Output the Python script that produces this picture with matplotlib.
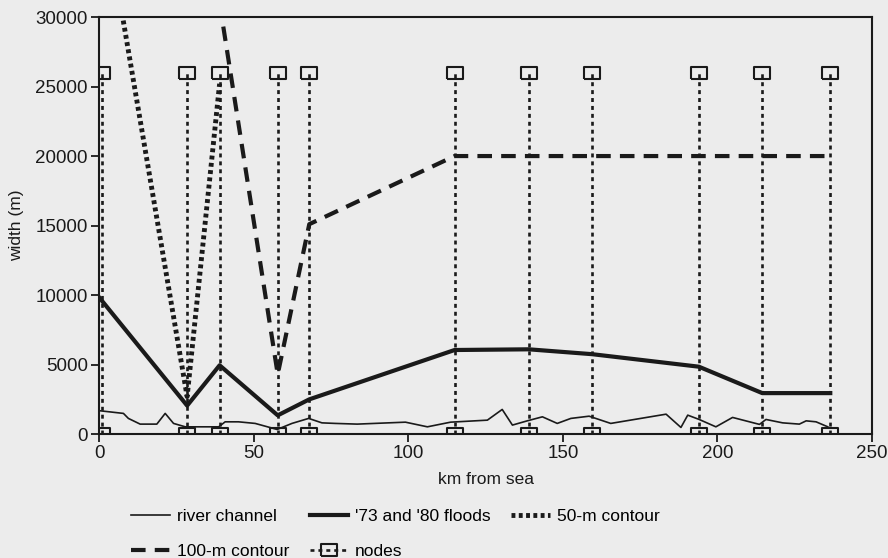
import numpy as np
import matplotlib.pyplot as plt
from matplotlib.lines import Line2D

# river channel width (m) along km from sea
river_km = [0.3, 7.9, 9.5, 13.3, 18.7, 21.4, 24.1, 27.9, 34.3, 38.7, 40.8, 45.1, 50.5,
            57.6, 62.4, 67.8, 72.1, 76.4, 83.5, 99.1, 106.2, 113.7, 125.6, 130.4, 133.7,
            138.5, 143.4, 148.2, 152.6, 158.5, 165.5, 183.4, 188.2, 190.4, 194.1, 199.5,
            204.9, 213.6, 215.7, 221.1, 226.5, 228.7, 231.9, 235.7]
river_w = [1680, 1490, 1130, 720, 720, 1490, 770, 525, 525, 525, 885, 885, 770,
           335, 770, 1130, 810, 770, 720, 860, 525, 860, 1005, 1775, 650,
           955, 1245, 770, 1130, 1290, 770, 1435, 480, 1365, 1055, 525,
           1200, 700, 1055, 810, 720, 955, 885, 525]

flood_km = [0, 28.5, 39, 57.8, 68, 115, 139, 159.5, 194, 214.5, 236.5]
flood_w = [9850, 2050, 4950, 1350, 2500, 6050, 6100, 5750, 4850, 2950, 2950]

c50_km = [0, 28.5, 39]
c50_w = [40000, 2700, 25200]

c100_km = [39, 57.8, 68, 115, 139, 159.5, 194, 214.5, 236.5]
c100_w = [31000, 4300, 15100, 20000, 20000, 20000, 20000, 20000, 20000]

node_km = [1, 28.5, 39, 57.8, 68, 115, 139, 159.5, 194, 214.5, 236.5]
node_top = 26000

bg = '#ececec'
ink = '#1a1a1a'
plt.rcParams['font.family'] = ['Liberation Sans', 'DejaVu Sans']

fig = plt.figure(figsize=(8.88, 5.58), dpi=100, facecolor=bg)
ax = fig.add_axes([0.1115, 0.222, 0.8705, 0.7475], facecolor=bg)

# nodes: vertical dotted lines with box markers top and bottom
nx, ny = [], []
for k in node_km:
    nx += [k, k, np.nan]
    ny += [0, node_top, np.nan]
box = [(-1.4, -1), (1.4, -1), (1.4, 1), (-1.4, 1), (-1.4, -1)]
node_style = dict(color=ink, lw=1.9, ls=(0, (1.5, 1.5)), marker=box, ms=12,
                  mfc='none', mec=ink, mew=1.5)
ax.plot(nx, ny, zorder=2, **node_style)

ax.plot(river_km, river_w, color=ink, lw=1.2, zorder=3)
ax.plot(flood_km, flood_w, color=ink, lw=3, zorder=3)
ax.plot(c50_km, c50_w, color=ink, lw=3.5, ls=(0, (0.8, 0.7)), zorder=3)
ax.plot(c100_km, c100_w, color=ink, lw=3, ls=(0, (3.5, 2.2)), zorder=3)

ax.set_xlim(0, 250)
ax.set_ylim(0, 30000)
ax.set_xticks(np.arange(0, 251, 50))
ax.set_yticks(np.arange(0, 30001, 5000))
for s in ax.spines.values():
    s.set_color(ink)
    s.set_linewidth(1.5)
ax.tick_params(direction='out', length=6, width=1.3, colors=ink, labelsize=13.5, pad=2)
ax.set_xlabel('km from sea', fontsize=12.5, color=ink, labelpad=7)
ax.set_ylabel('width (m)', fontsize=12.5, color=ink, labelpad=8)

h_river = Line2D([], [], color=ink, lw=1.2)
h_flood = Line2D([], [], color=ink, lw=3)
h_c50 = Line2D([], [], color=ink, lw=3.5, ls=(0, (0.8, 0.7)))
h_c100 = Line2D([], [], color=ink, lw=3, ls=(0, (3.5, 2.2)))
h_node = Line2D([], [], **node_style)
h_node.set_markevery([1])
# legend fills column by column, so order gives rows:
# river | floods | 50-m   /   100-m | nodes
handles = [h_river, h_c100, h_flood, h_node, h_c50]
labels = ['river channel', '100-m contour', "'73 and '80 floods", 'nodes',
          '50-m contour']
fig.legend(handles, labels, loc='upper left', bbox_to_anchor=(0.148, 0.088),
           ncol=3, frameon=False, fontsize=12.5, handlelength=2.2,
           handletextpad=0.4, columnspacing=1.2, labelspacing=1.15,
           borderaxespad=0, borderpad=0)

fig.savefig('out.png', dpi=100, facecolor=bg)
